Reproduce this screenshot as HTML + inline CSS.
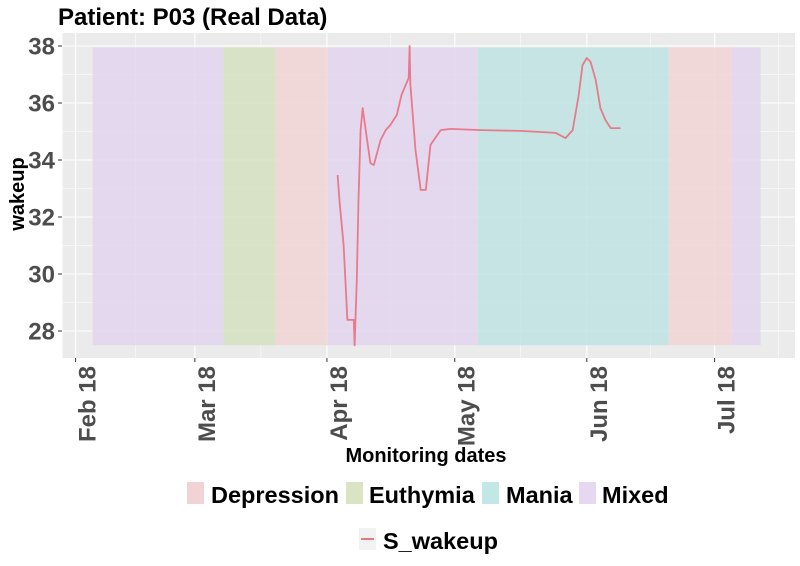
<!DOCTYPE html>
<html><head><meta charset="utf-8"><style>
body{margin:0;background:#fff;}
svg text{font-family:"Liberation Sans",Arial,sans-serif;font-weight:bold;}
</style></head><body>
<svg id="chart" width="800" height="561" xmlns="http://www.w3.org/2000/svg">
<text x="58" y="25" font-size="24" fill="#000">Patient: P03 (Real Data)</text>
<rect x="62" y="33" width="733" height="325" fill="#ebebeb"/>
<g id="grid"></g><g id="bands"></g><g id="series"></g><g id="axes"></g>
<text transform="translate(24,194) rotate(-90)" text-anchor="middle" font-size="20" fill="#000">wakeup</text>
<text x="426" y="462" text-anchor="middle" font-size="20" fill="#000">Monitoring dates</text>
<g>
<rect x="187" y="482" width="17" height="22" fill="#f1d3d5"/>
<text x="211" y="503" font-size="23.5" fill="#000">Depression</text>
<rect x="346" y="482" width="17" height="22" fill="#dae4c3"/>
<text x="369" y="503" font-size="23.5" fill="#000">Euthymia</text>
<rect x="482" y="482" width="17" height="22" fill="#c3e6e6"/>
<text x="506" y="503" font-size="23.5" fill="#000">Mania</text>
<rect x="579" y="482" width="17" height="22" fill="#e6d8f1"/>
<text x="602" y="503" font-size="23.5" fill="#000">Mixed</text>
</g>
<g>
<rect x="359" y="528" width="17" height="22" fill="#f2f2f2"/>
<line x1="361" y1="539" x2="374" y2="539" stroke="#e57a80" stroke-width="2"/>
<text x="383" y="549" font-size="23.5" fill="#000">S_wakeup</text>
</g>
</svg>
<script>
const tickDays=[0,28,59,89,120,150];
const tickLabels=["Feb 18","Mar 18","Apr 18","May 18","Jun 18","Jul 18"];
const yTicks=[28,30,32,34,36,38];
const bandPhases=["Mixed","Euthymia","Depression","Mixed","Mania","Depression","Mixed"];
const bandStart=[4.0,34.7,46.9,59.2,94.4,139.2,154.0];
const bandEnd=[34.7,46.9,59.2,94.4,139.2,154.0,160.8];
const bandMin=27.5, bandMax=37.95;
const wakeDays=[61.5,62.0,62.9,63.8,65.3,65.5,66.0,66.4,66.9,67.4,68.1,69.2,70.0,71.6,72.8,73.9,75.4,76.5,78.2,78.4,78.6,79.8,81.0,82.2,83.3,85.7,88.0,95.1,104.5,112.7,115.0,116.7,118.1,119.0,120.0,120.9,122.1,123.2,124.4,125.6,127.9];
const wakeVals=[33.47,32.49,31.02,28.39,28.39,27.5,29.79,32.6,35.05,35.82,35.05,33.89,33.82,34.7,35.05,35.23,35.58,36.28,36.88,38.0,36.63,34.35,32.95,32.95,34.53,35.05,35.09,35.05,35.02,34.95,34.77,35.05,36.28,37.33,37.58,37.44,36.81,35.82,35.4,35.12,35.12];
const ns="http://www.w3.org/2000/svg";
const X=d=>75.6+d*4.26, Y=v=>46+(38-v)*28.5;
const colors={Mixed:"#e3d5ee",Euthymia:"#d5e0c0",Depression:"#f1d3d5",Mania:"#bfe3e3"};
function mk(t,a,p){const e=document.createElementNS(ns,t);for(const k in a)e.setAttribute(k,a[k]);p.appendChild(e);return e;}
const grid=document.getElementById('grid'),bands=document.getElementById('bands'),ser=document.getElementById('series'),axes=document.getElementById('axes');
for(let i=0;i<tickDays.length;i++){
 const x=X(tickDays[i]);
 const g=mk('line',{x1:x,x2:x,y1:33,y2:358,stroke:'#fff','stroke-width':1.1},grid);
 
 
 if(i<tickDays.length-1){const xm=X((tickDays[i]+tickDays[i+1])/2);mk('line',{x1:xm,x2:xm,y1:33,y2:358,stroke:'#fff','stroke-width':0.5},grid);}
 mk('line',{x1:x,x2:x,y1:358,y2:362,stroke:'#333','stroke-width':1},axes);
 const t=mk('text',{transform:`translate(${x+20},${366}) rotate(-90)`,'text-anchor':'end','font-size':24,fill:'#4d4d4d'},axes);
 t.textContent=tickLabels[i];
 
 
}
mk('line',{x1:X(-3),x2:X(-3),y1:33,y2:358,stroke:'#fff','stroke-width':0.5},grid);
mk('line',{x1:X(165),x2:X(165),y1:33,y2:358,stroke:'#fff','stroke-width':0.5},grid);
for(let i=0;i<yTicks.length;i++){
 const y=Y(yTicks[i]);
 const g=mk('line',{x1:62,x2:795,y1:y,y2:y,stroke:'#fff','stroke-width':1.1},grid);
 
 
 if(i<yTicks.length-1){const ym=Y(yTicks[i]+1);mk('line',{x1:62,x2:795,y1:ym,y2:ym,stroke:'#fff','stroke-width':0.5},grid);}
 mk('line',{x1:58,x2:62,y1:y,y2:y,stroke:'#333','stroke-width':1},axes);
 const t=mk('text',{x:55,y:y+8.5,'text-anchor':'end','font-size':24,fill:'#4d4d4d'},axes);
 t.textContent=yTicks[i];
 
 
}
for(let i=0;i<bandPhases.length;i++){
 const r=mk('rect',{x:X(bandStart[i]),y:Y(bandMax),width:X(bandEnd[i])-X(bandStart[i]),height:Y(bandMin)-Y(bandMax),fill:colors[bandPhases[i]],opacity:0.85},bands);
 
 
}
const pts=wakeDays.map((d,i)=>X(d).toFixed(1)+','+Y(wakeVals[i]).toFixed(1)).join(' ');
const pl=mk('polyline',{points:pts,fill:'none',stroke:'#e8707f','stroke-width':1.8,'stroke-linejoin':'round',opacity:0.9},ser);


</script>
</body></html>
